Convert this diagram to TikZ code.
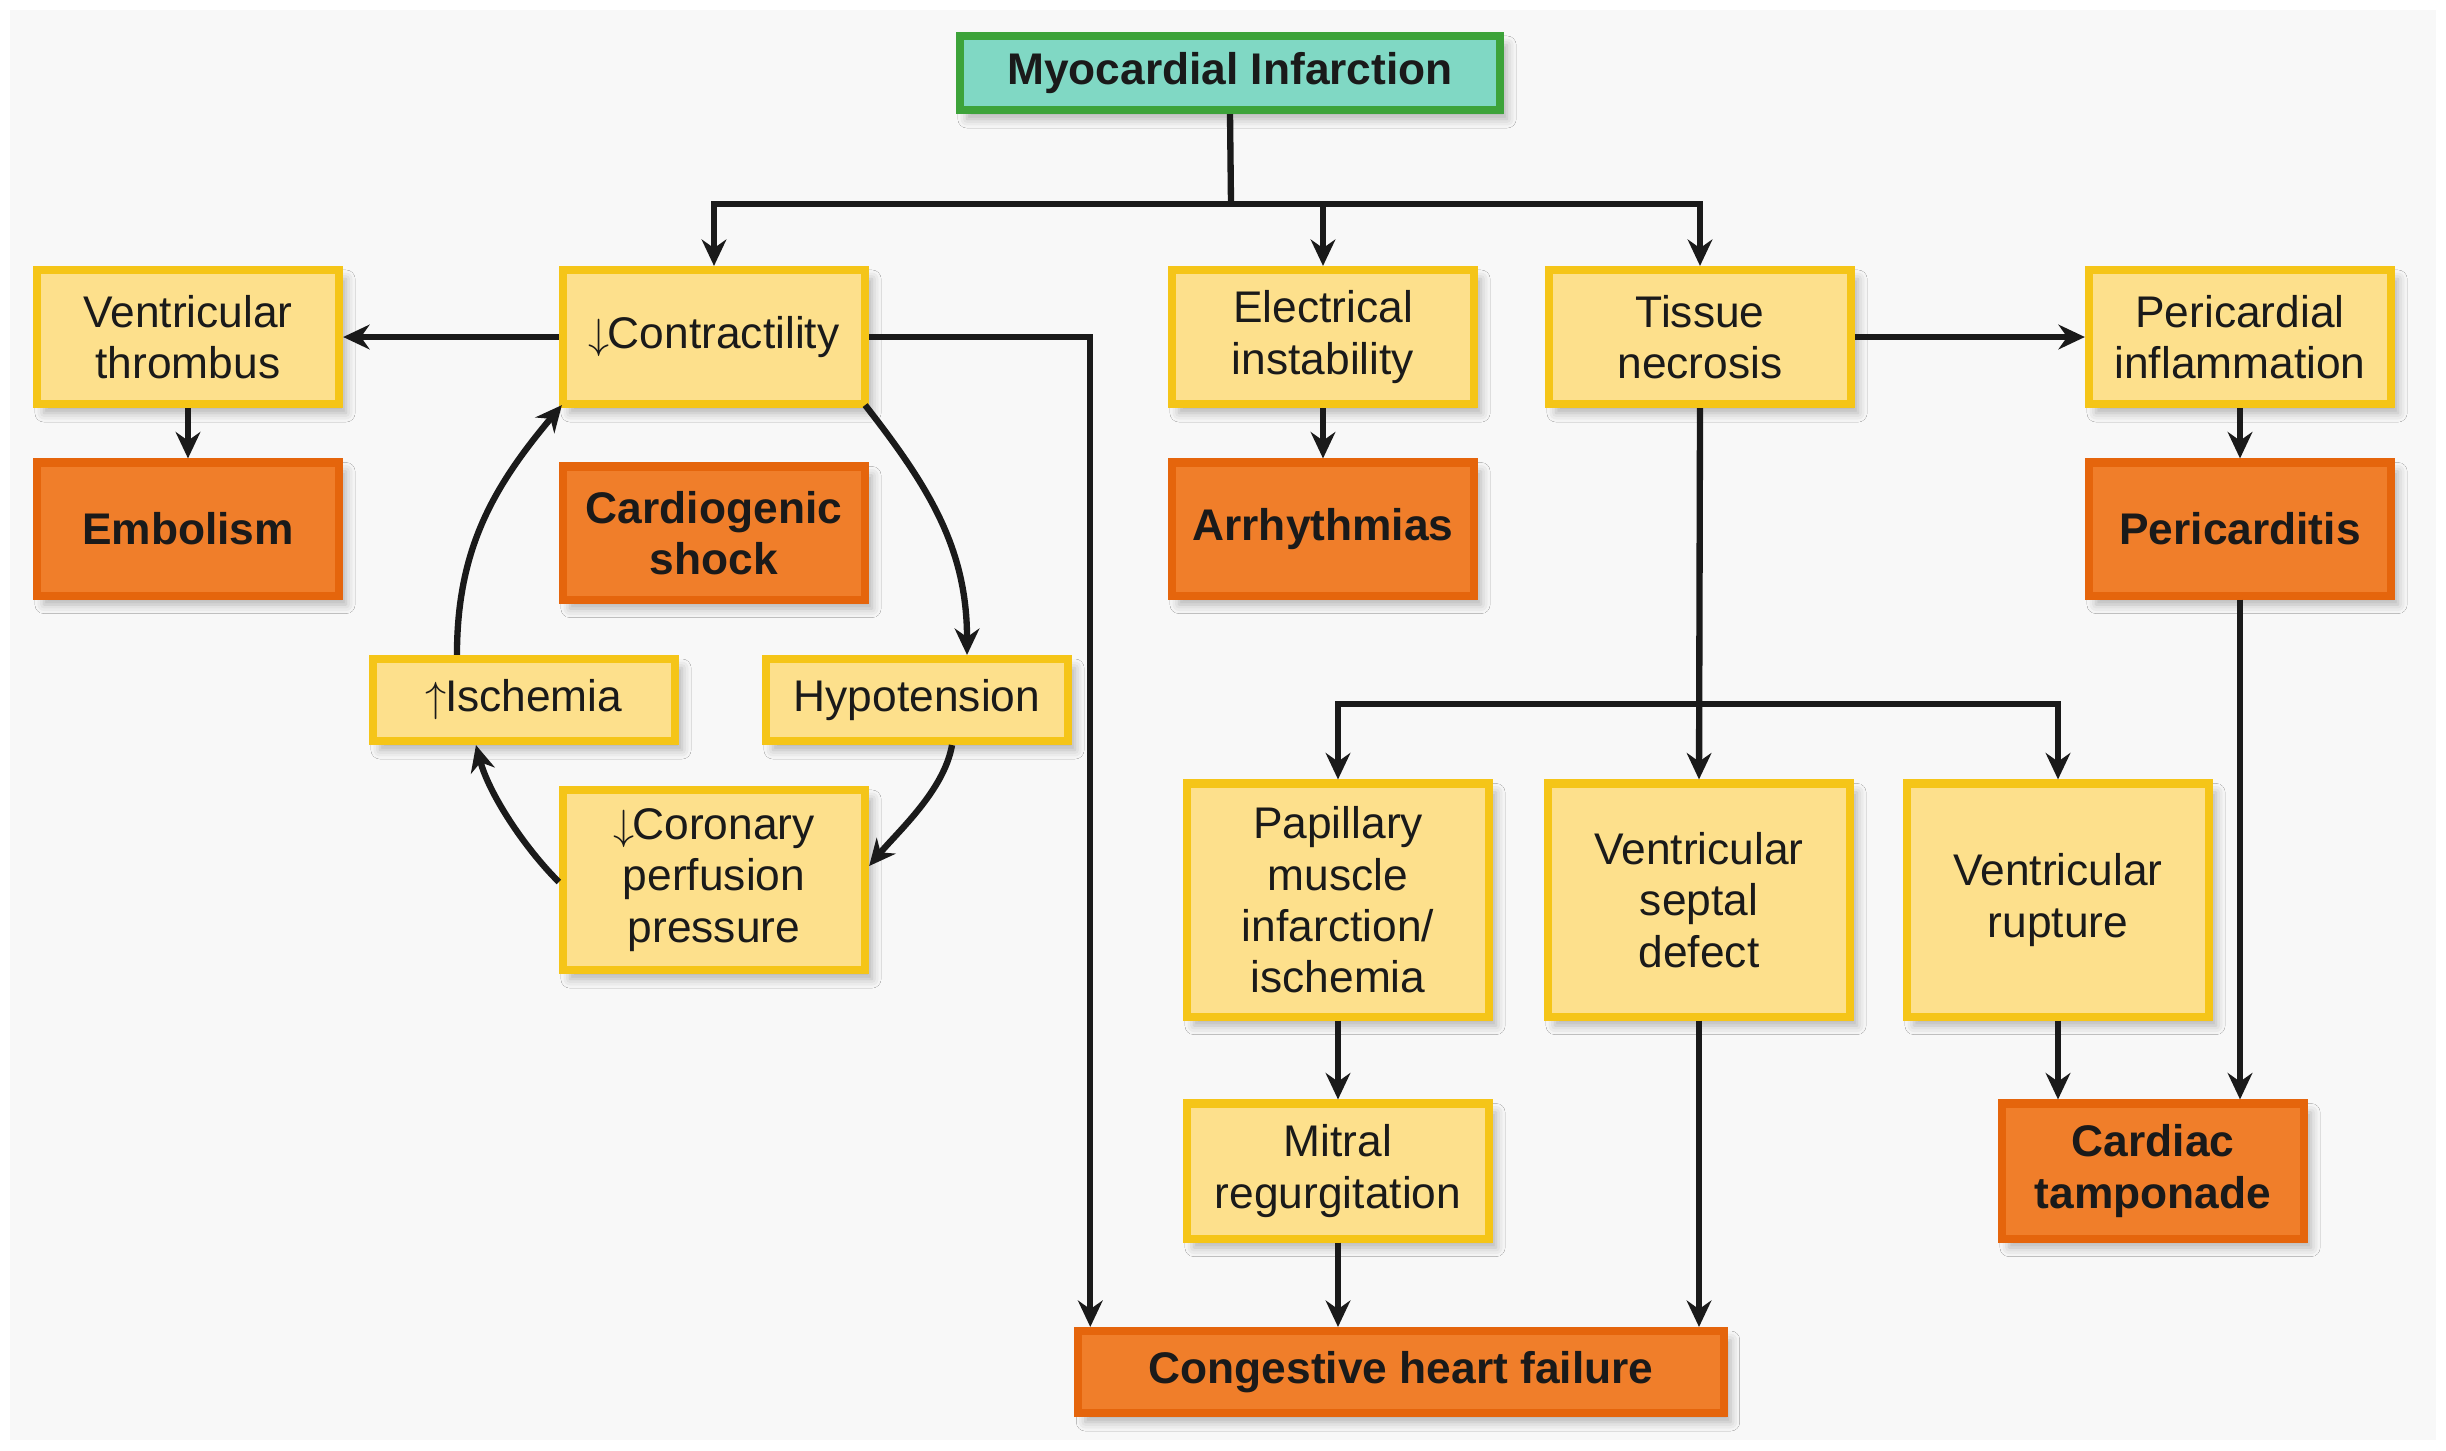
\documentclass[tikz,border=0pt]{standalone}
\usepackage{fontspec}
\setmainfont{Liberation Sans}
\usetikzlibrary{arrows.meta,shadows.blur}
\definecolor{bgc}{HTML}{F8F8F8}
\definecolor{yfill}{HTML}{FDE08C}
\definecolor{ydraw}{HTML}{F5C518}
\definecolor{ofill}{HTML}{F07E2A}
\definecolor{odraw}{HTML}{E5650C}
\definecolor{tfill}{HTML}{80D8C4}
\definecolor{tdraw}{HTML}{3DA33A}
\definecolor{txt}{HTML}{1A1A1A}
\tikzset{
  box/.style={rectangle, line width=2.3pt, align=center, text=txt,
    font=\fontsize{12.6}{14.6}\selectfont, inner sep=2pt,
    minimum width=3.02cm,
    blur shadow={shadow xshift=0.07cm, shadow yshift=-0.09cm, shadow blur radius=0.09cm, shadow opacity=28}},
  ybox/.style={box, fill=yfill, draw=ydraw},
  obox/.style={box, fill=ofill, draw=odraw, font=\fontsize{12.6}{14.6}\selectfont\bfseries},
  tbox/.style={box, fill=tfill, draw=tdraw, font=\fontsize{12.6}{14.6}\selectfont\bfseries},
  conn/.style={line width=1.8pt, draw=txt},
  arr/.style={conn, -{Stealth[length=7.5pt,width=7pt]}}
}
\begin{document}
\begin{tikzpicture}[x=0.01cm,y=-0.01cm]
\fill[white] (0,0) rectangle (2446,1450);
\fill[bgc] (10,10) rectangle (2436,1440);
\useasboundingbox (0,0) rectangle (2446,1450);

% nodes
\node[tbox, minimum width=5.40cm, minimum height=0.74cm] (mi) at (1230,73) {Myocardial Infarction};

\node[ybox, minimum height=1.34cm] (vt) at (188,337) {Ventricular\\thrombus};
\node[ybox, minimum height=1.34cm] (contr) at (714,337) {$\downarrow$\kern-0.5pt Contractility};
\node[ybox, minimum height=1.34cm] (elec) at (1323,337) {Electrical\\instability};
\node[ybox, minimum height=1.34cm] (tissue) at (1700,337) {Tissue\\necrosis};
\node[ybox, minimum height=1.34cm] (pinf) at (2240,337) {Pericardial\\inflammation};

\node[obox, minimum height=1.33cm] (emb) at (188,529) {Embolism};
\node[obox, minimum height=1.33cm] (shock) at (714,533) {Cardiogenic\\shock};
\node[obox, minimum height=1.33cm] (arr) at (1323,529) {Arrhythmias};
\node[obox, minimum height=1.33cm] (pcar) at (2240,529) {Pericarditis};

\node[ybox, minimum height=0.82cm] (isch) at (524,700) {$\uparrow$\kern-0.5pt Ischemia};
\node[ybox, minimum height=0.82cm] (hypo) at (917,700) {Hypotension};
\node[ybox, minimum height=1.80cm] (cor) at (714,880) {$\downarrow$\kern-0.5pt Coronary\\perfusion\\pressure};

\node[ybox, minimum height=2.33cm] (pap) at (1338,900) {Papillary\\muscle\\infarction/\\ischemia};
\node[ybox, minimum height=2.33cm] (vsd) at (1699,900) {Ventricular\\septal\\defect};
\node[ybox, minimum height=2.33cm] (rup) at (2058,900) {Ventricular\\rupture};

\node[ybox, minimum height=1.35cm] (mit) at (1338,1171) {Mitral\\regurgitation};
\node[obox, minimum height=1.35cm] (tamp) at (2153,1171) {Cardiac\\tamponade};
\node[obox, minimum width=6.45cm, minimum height=0.82cm] (chf) at (1401,1372) {Congestive heart failure};

% connectors
\coordinate (j1) at (1231,204);
\draw[conn] (mi.south) -- (j1);
\draw[arr] (j1) -| (contr.north);
\draw[arr] (j1) -| (tissue.north);
\draw[arr] (elec.north |- j1) -- (elec.north);

\draw[arr] (contr.west) -- (vt.east);
\draw[arr] (contr.east) -| ([xshift=0.16cm]chf.north west);
\draw[arr] (vt.south) -- (emb.north);
\draw[arr] (elec.south) -- (arr.north);
\draw[arr] (tissue.east) -- (pinf.west);
\draw[arr] (pinf.south) -- (pcar.north);
\draw[arr] (pcar.south) -- (pcar.south |- tamp.north);

\coordinate (j2) at (1700,704);
\draw[arr] (tissue.south) -- (vsd.north);
\draw[arr] (j2) -| (pap.north);
\draw[arr] (j2) -| (rup.north);
\draw[arr] (pap.south) -- (mit.north);
\draw[arr] (mit.south) -- (mit.south |- chf.north);
\draw[arr] (vsd.south) -- (vsd.south |- chf.north);
\draw[arr] (rup.south) -- (rup.south |- tamp.north);

% vicious cycle
\draw[arr] ([xshift=-0.04cm,yshift=0.03cm]contr.south east) to[out=-52,in=90] ([xshift=0.5cm]hypo.north);
\draw[arr] ([xshift=0.35cm]hypo.south) to[out=-100,in=50,looseness=0.8] ([yshift=0.14cm]cor.east);
\draw[arr] ([yshift=-0.02cm]cor.west) to[out=135,in=-75,looseness=0.8] ([xshift=-0.48cm]isch.south);
\draw[arr] ([xshift=-0.67cm]isch.north) to[out=90,in=-130] ([xshift=0.03cm,yshift=0.03cm]contr.south west);
\end{tikzpicture}
\end{document}
